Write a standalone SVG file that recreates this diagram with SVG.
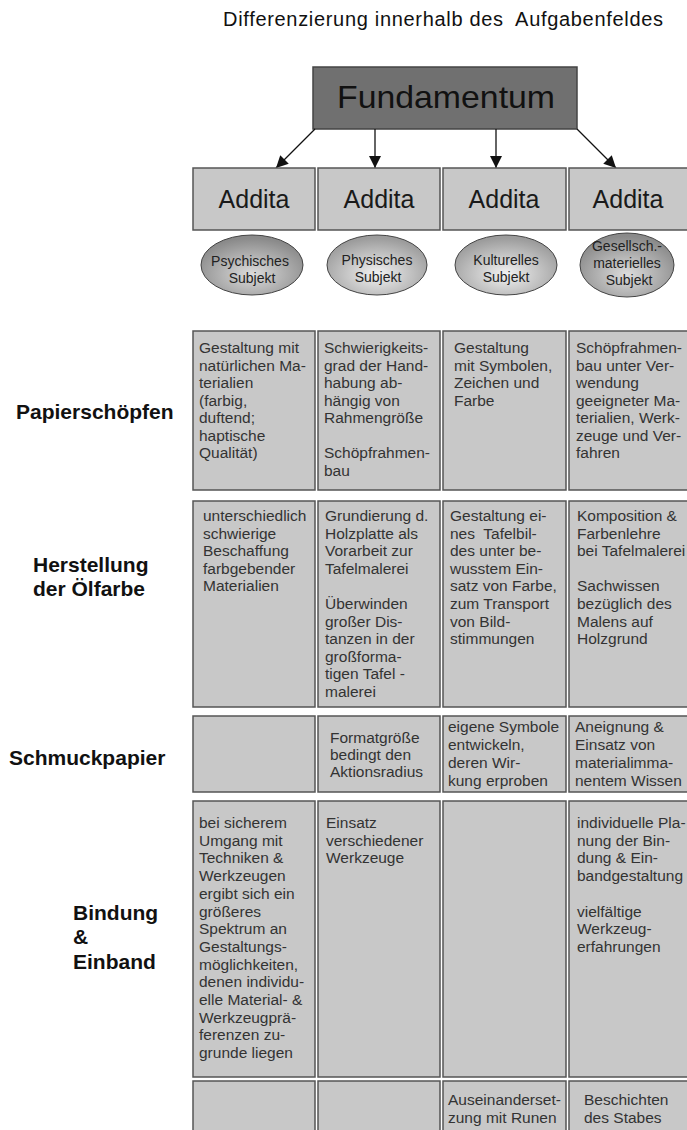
<svg xmlns="http://www.w3.org/2000/svg" width="687" height="1130" viewBox="0 0 687 1130">
<style>
.title{font-family:"Liberation Sans",Arial,sans-serif;font-size:20px;fill:#111;white-space:pre}
.fund{font-family:"Liberation Sans",Arial,sans-serif;font-size:32px;fill:#111}
.add{font-family:"Liberation Sans",Arial,sans-serif;font-size:25px;fill:#1a1a1a}
.ell{font-family:"Liberation Sans",Arial,sans-serif;font-size:14px;fill:#222}
.lbl{font-family:"Liberation Sans",Arial,sans-serif;font-size:21px;font-weight:bold;fill:#111}
.cell{fill:#c8c8c8;stroke:#555;stroke-width:1.5}
.box{fill:#c8c8c8;stroke:#555;stroke-width:1.5}
.ct{font-family:"Liberation Sans",Arial,sans-serif;font-size:15.5px;fill:#333;white-space:pre}
.conn{stroke:#111;stroke-width:1.3;fill:none}
.ov{stroke:#444;stroke-width:1}
</style>
<defs>
<marker id="ah" viewBox="0 0 10 10" refX="10" refY="5" markerWidth="13" markerHeight="12" markerUnits="userSpaceOnUse" orient="auto">
<path d="M0,0 L10,5 L0,10 z" fill="#111"/>
</marker>
<radialGradient id="gl" cx="50%" cy="65%" r="60%">
<stop offset="0" stop-color="#f2f2f2"/>
<stop offset="1" stop-color="#9c9c9c"/>
</radialGradient>
<radialGradient id="gd" cx="50%" cy="65%" r="60%">
<stop offset="0" stop-color="#dcdcdc"/>
<stop offset="1" stop-color="#8a8a8a"/>
</radialGradient>
</defs>
<rect width="687" height="1130" fill="#fff"/>
<text class="title" xml:space="preserve" x="223" y="26" textLength="440" lengthAdjust="spacing">Differenzierung innerhalb des  Aufgabenfeldes</text>

<g id="fundamentum">
<rect x="313" y="67" width="264" height="62" fill="#707070" stroke="#444" stroke-width="1.5"/>
<text class="fund" x="446" y="108" text-anchor="middle" textLength="218" lengthAdjust="spacingAndGlyphs">Fundamentum</text>
</g>

<g id="connectors">
<line class="conn" x1="315" y1="129" x2="276" y2="168" marker-end="url(#ah)"/>
<line class="conn" x1="375" y1="129" x2="375" y2="168" marker-end="url(#ah)"/>
<line class="conn" x1="496" y1="129" x2="496" y2="168" marker-end="url(#ah)"/>
<line class="conn" x1="577" y1="129" x2="616" y2="168" marker-end="url(#ah)"/>
</g>

<g id="addita1"><rect class="box" x="193" y="168" width="122" height="62"/><text class="add" x="254" y="208" text-anchor="middle">Addita</text></g>
<g id="addita2"><rect class="box" x="318" y="168" width="122" height="62"/><text class="add" x="379" y="208" text-anchor="middle">Addita</text></g>
<g id="addita3"><rect class="box" x="443" y="168" width="123" height="62"/><text class="add" x="504" y="208" text-anchor="middle">Addita</text></g>
<g id="addita4"><rect class="box" x="569" y="168" width="122" height="62"/><text class="add" x="628" y="208" text-anchor="middle">Addita</text></g>

<g id="subjekt1"><ellipse class="ov" cx="252" cy="265" rx="51" ry="30" fill="url(#gd)"/>
<text class="ell" text-anchor="middle"><tspan x="250" y="266">Psychisches</tspan><tspan x="252" y="283">Subjekt</tspan></text></g>
<g id="subjekt2"><ellipse class="ov" cx="377" cy="265" rx="50" ry="30" fill="url(#gl)"/>
<text class="ell" text-anchor="middle"><tspan x="377" y="265">Physisches</tspan><tspan x="378" y="282">Subjekt</tspan></text></g>
<g id="subjekt3"><ellipse class="ov" cx="506" cy="265" rx="51" ry="30" fill="url(#gl)"/>
<text class="ell" text-anchor="middle"><tspan x="506" y="265">Kulturelles</tspan><tspan x="506" y="282">Subjekt</tspan></text></g>
<g id="subjekt4"><ellipse class="ov" cx="627" cy="265" rx="47" ry="32" fill="url(#gd)"/>
<text class="ell" text-anchor="middle" font-size="13.5px"><tspan x="627" y="251">Gesellsch.-</tspan><tspan x="627" y="268">materielles</tspan><tspan x="629" y="285">Subjekt</tspan></text></g>

<g id="label-papier"><text class="lbl" x="16" y="419">Papierschöpfen</text></g>
<g id="label-oel"><text class="lbl"><tspan x="33" y="572">Herstellung</tspan><tspan x="33" y="596">der Ölfarbe</tspan></text></g>
<g id="label-schmuck"><text class="lbl" x="9" y="765">Schmuckpapier</text></g>
<g id="label-bindung"><text class="lbl"><tspan x="73" y="920">Bindung</tspan><tspan x="73" y="944">&amp;</tspan><tspan x="73" y="969">Einband</tspan></text></g>

<!-- Row 1 -->
<g id="r1c1"><rect class="cell" x="193" y="331" width="122" height="159"/>
<text class="ct"><tspan x="199" y="353">Gestaltung mit</tspan><tspan x="199" y="370.5">natürlichen Ma-</tspan><tspan x="199" y="388">terialien</tspan><tspan x="199" y="405.5">(farbig,</tspan><tspan x="199" y="423">duftend;</tspan><tspan x="199" y="440.5">haptische</tspan><tspan x="199" y="458">Qualität)</tspan></text></g>
<g id="r1c2"><rect class="cell" x="318" y="331" width="122" height="159"/>
<text class="ct"><tspan x="324" y="353">Schwierigkeits-</tspan><tspan x="324" y="370.5">grad der Hand-</tspan><tspan x="324" y="388">habung ab-</tspan><tspan x="324" y="405.5">hängig von</tspan><tspan x="324" y="423">Rahmengröße</tspan><tspan x="324" y="458">Schöpfrahmen-</tspan><tspan x="324" y="475.5">bau</tspan></text></g>
<g id="r1c3"><rect class="cell" x="443" y="331" width="123" height="159"/>
<text class="ct"><tspan x="454" y="353">Gestaltung</tspan><tspan x="454" y="370.5">mit Symbolen,</tspan><tspan x="454" y="388">Zeichen und</tspan><tspan x="454" y="405.5">Farbe</tspan></text></g>
<g id="r1c4"><rect class="cell" x="569" y="331" width="122" height="159"/>
<text class="ct"><tspan x="576" y="353">Schöpfrahmen-</tspan><tspan x="576" y="370.5">bau unter Ver-</tspan><tspan x="576" y="388">wendung</tspan><tspan x="576" y="405.5">geeigneter Ma-</tspan><tspan x="576" y="423">terialien, Werk-</tspan><tspan x="576" y="440.5">zeuge und Ver-</tspan><tspan x="576" y="458">fahren</tspan></text></g>

<!-- Row 2 -->
<g id="r2c1"><rect class="cell" x="193" y="501" width="122" height="206"/>
<text class="ct"><tspan x="203" y="521">unterschiedlich</tspan><tspan x="203" y="538.6">schwierige</tspan><tspan x="203" y="556.2">Beschaffung</tspan><tspan x="203" y="573.8">farbgebender</tspan><tspan x="203" y="591.4">Materialien</tspan></text></g>
<g id="r2c2"><rect class="cell" x="318" y="501" width="122" height="206"/>
<text class="ct"><tspan x="325" y="521">Grundierung d.</tspan><tspan x="325" y="538.6">Holzplatte als</tspan><tspan x="325" y="556.2">Vorarbeit zur</tspan><tspan x="325" y="573.8">Tafelmalerei</tspan><tspan x="325" y="609">Überwinden</tspan><tspan x="325" y="626.6">großer Dis-</tspan><tspan x="325" y="644.2">tanzen in der</tspan><tspan x="325" y="661.8">großforma-</tspan><tspan x="325" y="679.4">tigen Tafel -</tspan><tspan x="325" y="697">malerei</tspan></text></g>
<g id="r2c3"><rect class="cell" x="443" y="501" width="123" height="206"/>
<text class="ct" xml:space="preserve"><tspan x="450" y="521">Gestaltung ei-</tspan><tspan x="450" y="538.6">nes  Tafelbil-</tspan><tspan x="450" y="556.2">des unter be-</tspan><tspan x="450" y="573.8">wusstem Ein-</tspan><tspan x="450" y="591.4">satz von Farbe,</tspan><tspan x="450" y="609">zum Transport</tspan><tspan x="450" y="626.6">von Bild-</tspan><tspan x="450" y="644.2">stimmungen</tspan></text></g>
<g id="r2c4"><rect class="cell" x="569" y="501" width="122" height="206"/>
<text class="ct"><tspan x="577" y="521">Komposition &amp;</tspan><tspan x="577" y="538.6">Farbenlehre</tspan><tspan x="577" y="556.2">bei Tafelmalerei</tspan><tspan x="577" y="591.4">Sachwissen</tspan><tspan x="577" y="609">bezüglich des</tspan><tspan x="577" y="626.6">Malens auf</tspan><tspan x="577" y="644.2">Holzgrund</tspan></text></g>

<!-- Row 3 -->
<g id="r3c1"><rect class="cell" x="193" y="716" width="122" height="76"/></g>
<g id="r3c2"><rect class="cell" x="318" y="716" width="122" height="76"/>
<text class="ct"><tspan x="330" y="743">Formatgröße</tspan><tspan x="330" y="760">bedingt den</tspan><tspan x="330" y="777">Aktionsradius</tspan></text></g>
<g id="r3c3"><rect class="cell" x="443" y="716" width="123" height="76"/>
<text class="ct"><tspan x="448" y="732">eigene Symbole</tspan><tspan x="448" y="750">entwickeln,</tspan><tspan x="448" y="768">deren Wir-</tspan><tspan x="448" y="786">kung erproben</tspan></text></g>
<g id="r3c4"><rect class="cell" x="569" y="716" width="122" height="76"/>
<text class="ct"><tspan x="575" y="732">Aneignung &amp;</tspan><tspan x="575" y="750">Einsatz von</tspan><tspan x="575" y="768">materialimma-</tspan><tspan x="575" y="786">nentem Wissen</tspan></text></g>

<!-- Row 4 -->
<g id="r4c1"><rect class="cell" x="193" y="801" width="122" height="276"/>
<text class="ct"><tspan x="199" y="828">bei sicherem</tspan><tspan x="199" y="845.7">Umgang mit</tspan><tspan x="199" y="863.4">Techniken &amp;</tspan><tspan x="199" y="881.1">Werkzeugen</tspan><tspan x="199" y="898.8">ergibt sich ein</tspan><tspan x="199" y="916.5">größeres</tspan><tspan x="199" y="934.2">Spektrum an</tspan><tspan x="199" y="951.9">Gestaltungs-</tspan><tspan x="199" y="969.6">möglichkeiten,</tspan><tspan x="199" y="987.3">denen individu-</tspan><tspan x="199" y="1005">elle Material- &amp;</tspan><tspan x="199" y="1022.7">Werkzeugprä-</tspan><tspan x="199" y="1040.4">ferenzen zu-</tspan><tspan x="199" y="1058.1">grunde liegen</tspan></text></g>
<g id="r4c2"><rect class="cell" x="318" y="801" width="122" height="276"/>
<text class="ct"><tspan x="326" y="828">Einsatz</tspan><tspan x="326" y="845.7">verschiedener</tspan><tspan x="326" y="863.4">Werkzeuge</tspan></text></g>
<g id="r4c3"><rect class="cell" x="443" y="801" width="123" height="276"/></g>
<g id="r4c4"><rect class="cell" x="569" y="801" width="122" height="276"/>
<text class="ct"><tspan x="577" y="828">individuelle Pla-</tspan><tspan x="577" y="845.7">nung der Bin-</tspan><tspan x="577" y="863.4">dung &amp; Ein-</tspan><tspan x="577" y="881.1">bandgestaltung</tspan><tspan x="577" y="916.5">vielfältige</tspan><tspan x="577" y="934.2">Werkzeug-</tspan><tspan x="577" y="951.9">erfahrungen</tspan></text></g>

<!-- Row 5 -->
<g id="r5c1"><rect class="cell" x="193" y="1081" width="122" height="60"/></g>
<g id="r5c2"><rect class="cell" x="318" y="1081" width="122" height="60"/></g>
<g id="r5c3"><rect class="cell" x="443" y="1081" width="123" height="60"/>
<text class="ct"><tspan x="448" y="1105">Auseinanderset-</tspan><tspan x="448" y="1123">zung mit Runen</tspan></text></g>
<g id="r5c4"><rect class="cell" x="569" y="1081" width="122" height="60"/>
<text class="ct"><tspan x="584" y="1105">Beschichten</tspan><tspan x="584" y="1123">des Stabes</tspan></text></g>
</svg>
